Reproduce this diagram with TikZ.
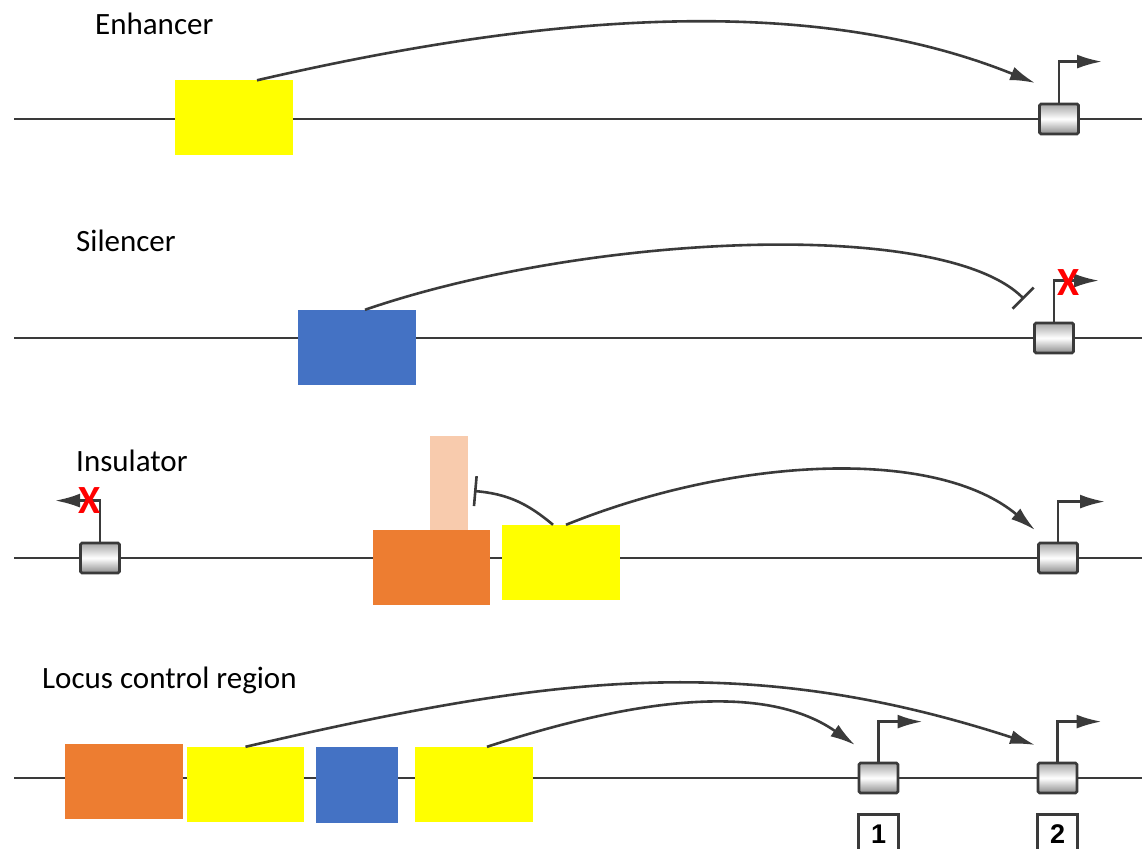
\documentclass[tikz,border=0pt]{standalone}
\usepackage{fontspec}
\setmainfont{Carlito}
\newfontfamily\numfont{Liberation Sans}
\usetikzlibrary{arrows.meta,positioning}
\definecolor{enhyellow}{HTML}{FFFF00}
\definecolor{silblue}{HTML}{4472C4}
\definecolor{insorange}{HTML}{ED7D31}
\definecolor{inspeach}{HTML}{F8CBAD}
\definecolor{dnagray}{HTML}{3A3A3A}
\pgfdeclareverticalshading{promshade}{100bp}{color(0bp)=(black!45); color(25bp)=(black!45);
  color(50bp)=(white); color(75bp)=(black!35); color(100bp)=(black!35)}

\begin{document}
\begin{tikzpicture}[x=1pt,y=1pt,
  dna/.style={draw=dnagray,line width=2.2pt},
  elem/.style={rectangle,minimum width=118pt,minimum height=75pt,inner sep=0pt},
  prom/.style={rectangle,draw=dnagray,line width=2.8pt,rounded corners=1.5pt,
    minimum width=39pt,minimum height=30pt,inner sep=0pt,shading=promshade},
  act/.style={draw=dnagray,line width=2.6pt,-{Latex[length=25pt,width=14pt]}},
  inhib/.style={draw=dnagray,line width=2.6pt,-{Bar[width=30pt]}},
  tss/.style={draw=dnagray,line width=2.6pt,-{Latex[length=25pt,width=14pt]}},
  nox/.style={text=red,font=\bfseries\fontsize{40}{40}\selectfont,inner sep=0pt},
  lbl/.style={anchor=base west,inner sep=0pt,font=\fontsize{31}{36}\selectfont},
  num/.style={draw=dnagray,line width=2.2pt,minimum width=40pt,minimum height=40pt,
    inner sep=0pt,font=\numfont\bfseries\fontsize{27}{27}\selectfont}]

\useasboundingbox (0,0) rectangle (1142,848);

\node[lbl] (lenh) at (95,813) {Enhancer};
\draw[dna] (14,729) -- (1142,729);
\node[elem,fill=enhyellow] (enh) at (234,730) {};
\node[prom] (p1) at (1059,729) {};
\draw[tss] (p1.north) -- ++(0,41) -- ++(43,0);
\coordinate (t1) at (1035,765);
\draw[act] ([xshift=23pt]enh.north) to[out=13,in=158,looseness=0.85] (t1);

\node[lbl] (lsil) at (76,596) {Silencer};
\draw[dna] (14,510) -- (1142,510);
\node[elem,fill=silblue] (sil) at (357,500.5) {};
\node[prom] (p2) at (1054,510) {};
\draw[tss] (p2.north) -- ++(0,41) -- ++(45,0);
\node[nox] (x2) at (1068,565) {X};
\coordinate (t2) at (1024,549);
\draw[inhib] ([xshift=8pt]sil.north) to[out=19,in=135,out looseness=0.9,in looseness=0.45] (t2);

\node[lbl] (lins) at (76,376) {Insulator};
\draw[dna] (14,290) -- (1142,290);
\node[prom] (p3a) at (100,290) {};
\draw[tss] (p3a.north) -- ++(0,41) -- ++(-45,0);
\node[nox] (x3) at (90,347) {X};
\node[elem,fill=inspeach,minimum width=38pt,minimum height=94pt] (pea) at (449,365) {};
\node[elem,fill=insorange,minimum width=117pt] (ins) at (431.5,280.5) {};
\node[elem,fill=enhyellow] (enh3) at (561,285.5) {};
\node[prom] (p3b) at (1058,290) {};
\draw[tss] (p3b.north) -- ++(0,40) -- ++(47,0);
\coordinate (bar3) at (474,357);
\draw[inhib] ([xshift=-8pt]enh3.north) to[out=140,in=-5] (bar3);
\coordinate (t3) at (1035,318);
\draw[act] ([xshift=5pt]enh3.north) to[out=22,in=140,in looseness=0.7] (t3);

\node[lbl] (llcr) at (42,159) {Locus control region};
\draw[dna] (14,70) -- (1142,70);
\node[elem,fill=insorange] (lcr1) at (124,66.5) {};
\node[elem,fill=enhyellow,minimum width=117pt] (lcr2) at (245.5,63.5) {};
\node[elem,fill=silblue,minimum width=82pt,minimum height=76pt] (lcr3) at (357,63) {};
\node[elem,fill=enhyellow] (lcr4) at (474,63.5) {};
\node[prom] (g1) at (878.5,70) {};
\node[prom] (g2) at (1057.5,70) {};
\draw[tss] (g1.north) -- ++(0,40) -- ++(44,0);
\draw[tss] (g2.north) -- ++(0,40) -- ++(44,0);
\node[num,below=19pt of g1] (n1) {1};
\node[num,below=19pt of g2] (n2) {2};
\coordinate (tg1) at (855,103);
\coordinate (tg2) at (1035,103);
\draw[act] (lcr2.north) to[out=13,in=162] (tg2);
\draw[act] ([xshift=13pt]lcr4.north) to[out=18,in=145,looseness=0.85] (tg1);
\end{tikzpicture}
\end{document}
